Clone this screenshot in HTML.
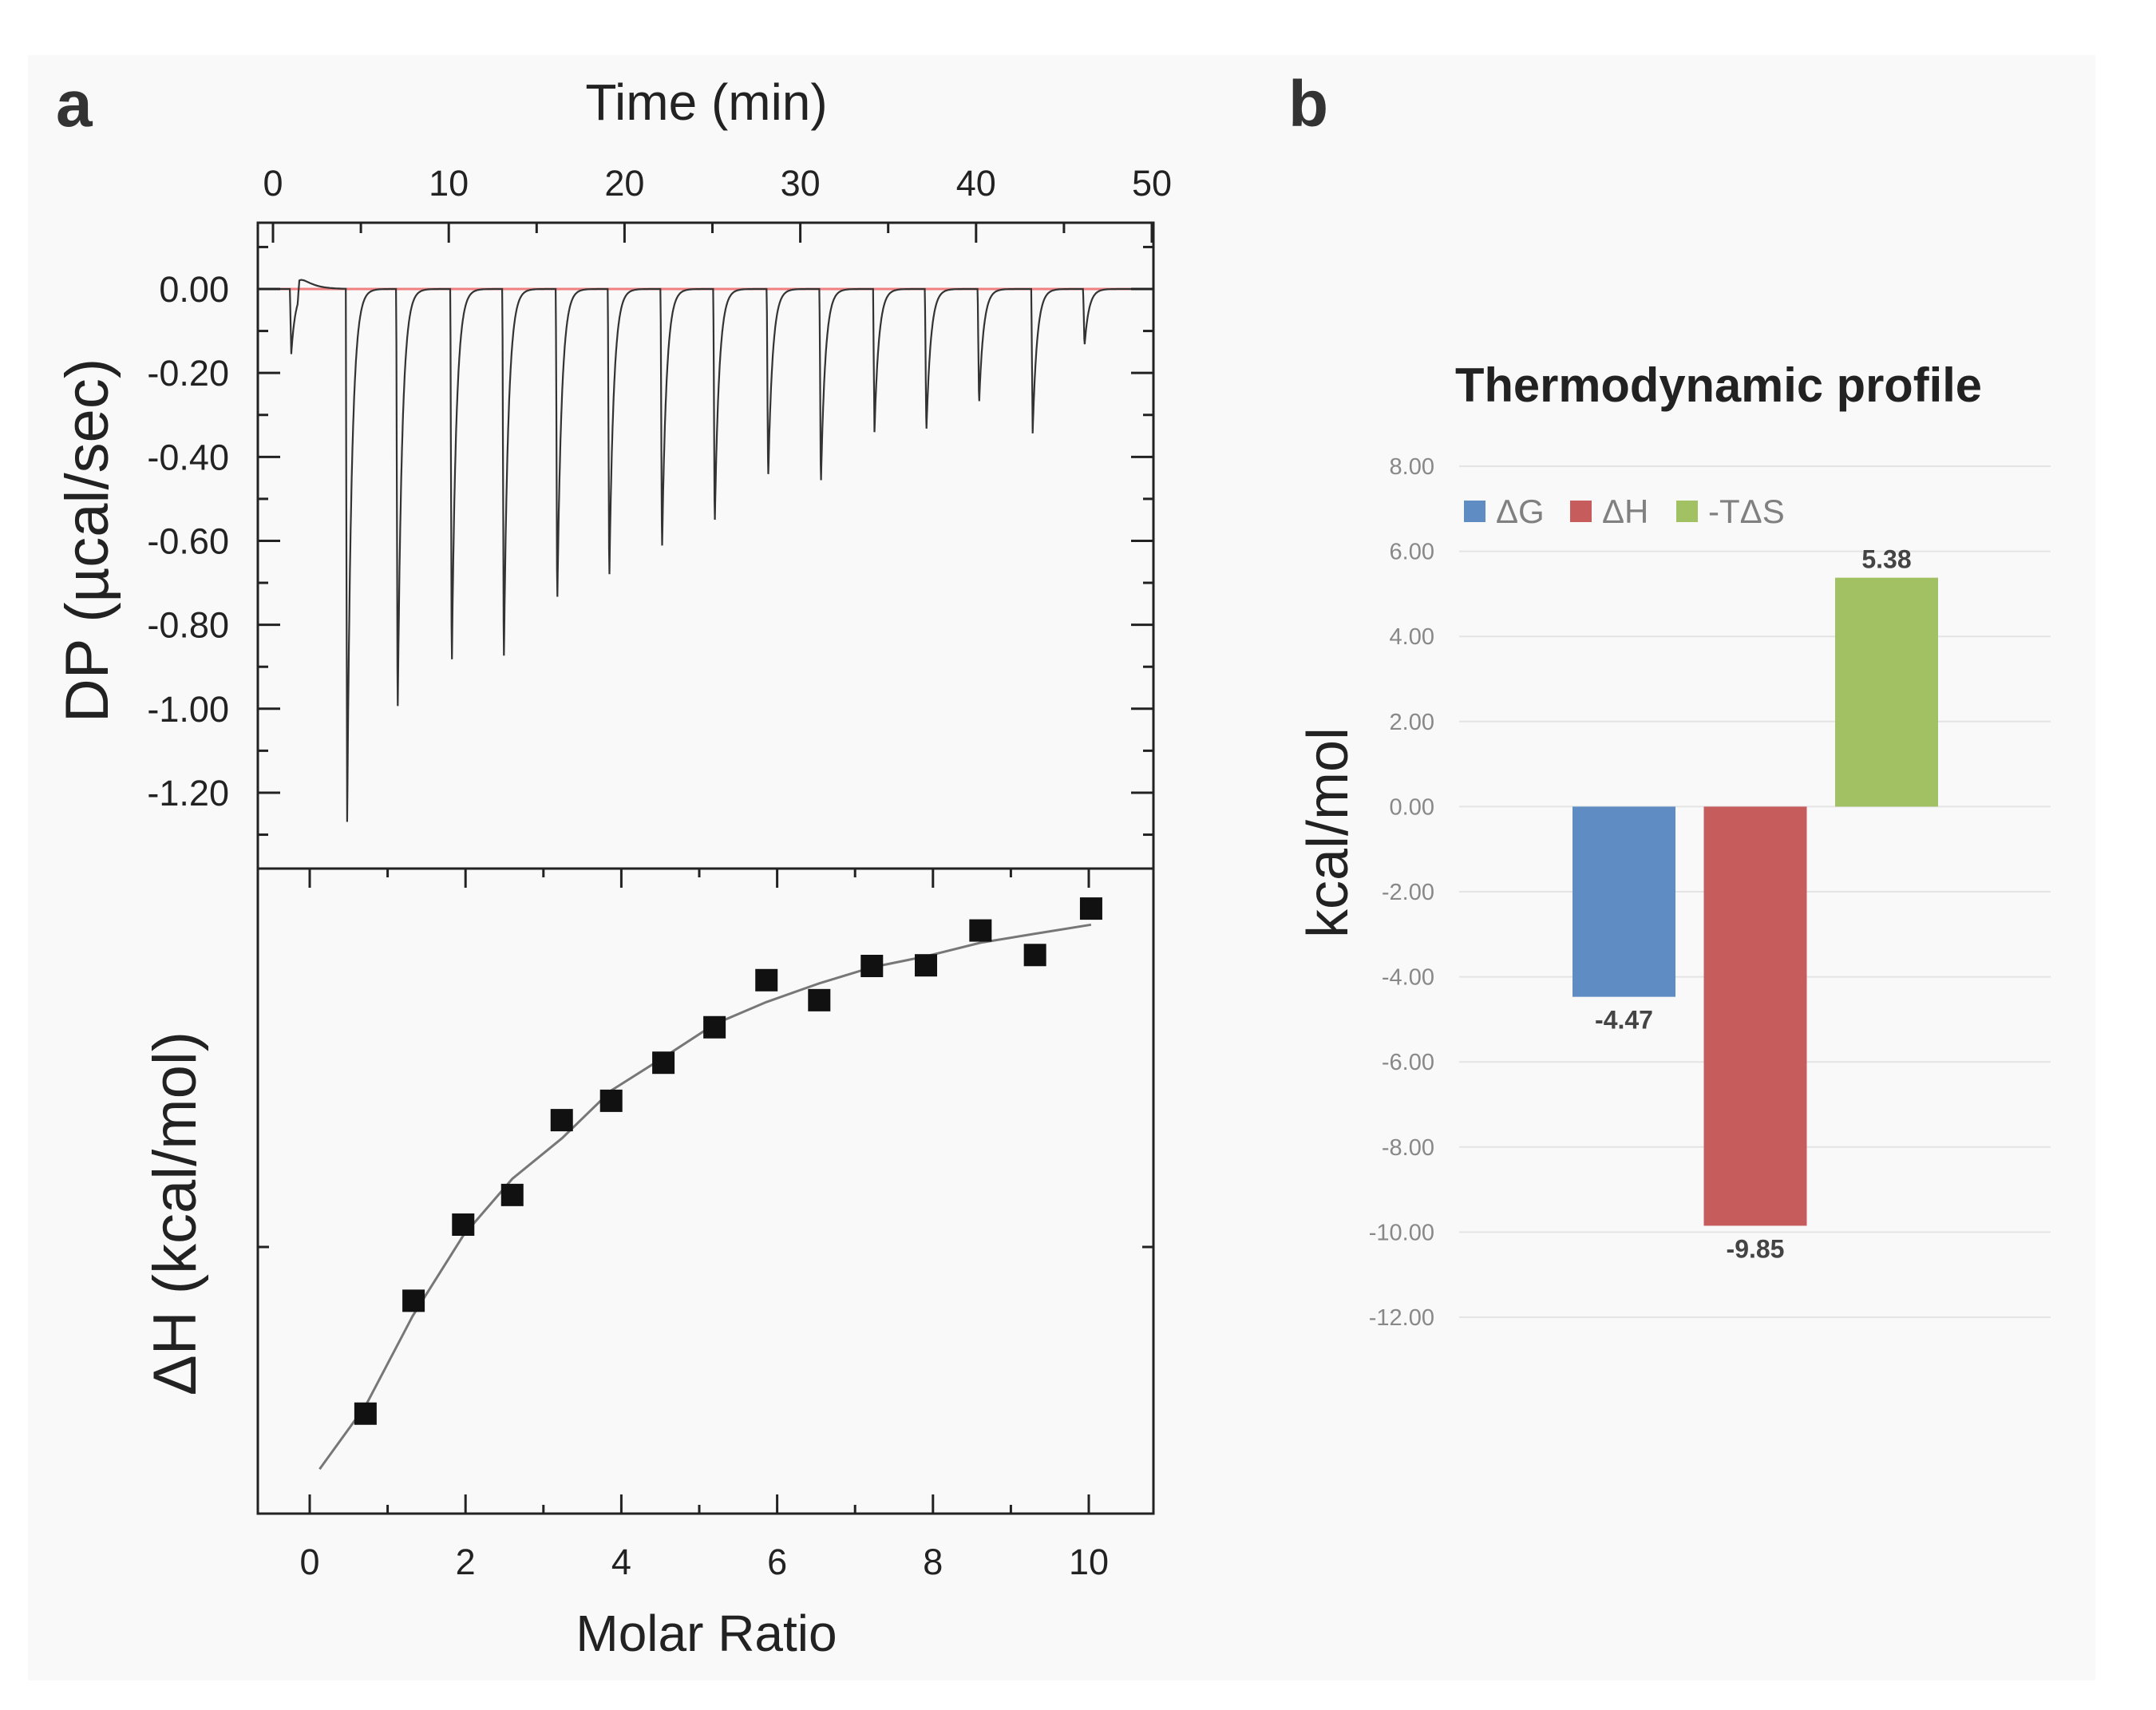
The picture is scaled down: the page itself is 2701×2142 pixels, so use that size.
<!DOCTYPE html>
<html><head><meta charset="utf-8"><style>
html,body{margin:0;padding:0;background:#fff;}
svg{display:block;}
text{font-family:"Liberation Sans",sans-serif;}
</style></head><body>
<svg id="fig" width="2701" height="2142" viewBox="0 0 2701 2142" xmlns="http://www.w3.org/2000/svg">
<rect x="35" y="69" width="2590" height="2036" fill="#f9f9f9"/>
<text x="70" y="158" font-size="82" font-weight="bold" fill="#333">a</text>
<text x="1614" y="158" font-size="82" font-weight="bold" fill="#333">b</text>
<g id="pa"></g>
<g id="pb"></g>
</svg>
<script>
// ---- ITC raw data (top) ----
const peakTimes=[1.04,4.22,7.09,10.17,13.13,16.17,19.13,22.13,25.13,28.17,31.17,34.22,37.17,40.17,43.22,46.17];
const peakDepths=[-0.155,-1.27,-1.034,-0.918,-0.909,-0.763,-0.707,-0.636,-0.572,-0.459,-0.474,-0.341,-0.346,-0.278,-0.344,-0.137];
const bumpTime=1.5, bumpHeight=0.045;
const timeTicks=[0,10,20,30,40,50];
const dpTicks=[0,-0.2,-0.4,-0.6,-0.8,-1.0,-1.2];
// ---- integrated heats (bottom) ----
const ratioPts=[0.716,1.333,1.97,2.60,3.235,3.87,4.54,5.196,5.863,6.54,7.216,7.91,8.61,9.31,10.03];
const heatPts=[15.5,33.0,44.8,49.4,61.0,64.0,69.9,75.4,82.7,79.6,84.9,85.0,90.4,86.6,93.8];
const fitX=[0.127,0.72,1.32,1.97,2.6,3.24,3.87,4.54,5.2,5.86,6.54,7.22,7.91,8.61,9.31,10.03];
const fitY=[6.9,16.8,30.6,43.1,51.9,58.2,65.6,70.7,75.9,79.3,82.2,84.7,86.4,88.5,89.9,91.3];
const ratioTicks=[0,2,4,6,8,10];
// ---- thermodynamic profile ----
const categories=["ΔG","ΔH","-TΔS"];
const energies=[-4.47,-9.85,5.38];
const energyLabels=["-4.47","-9.85","5.38"];
const energyTicks=[8,6,4,2,0,-2,-4,-6,-8,-10,-12];

const NS="http://www.w3.org/2000/svg";
function mk(parent,tag,attrs,txt){const e=document.createElementNS(NS,tag);for(const k in attrs)e.setAttribute(k,attrs[k]);if(txt!==undefined)e.textContent=txt;parent.appendChild(e);return e;}

// ===== Panel a =====
const pa=document.getElementById('pa');
const L=323,R=1445,T=279,D=1088,B=1896;
const xt=t=>342+t*22.02;
const ydp=v=>362-v*525.8;
const xr=r=>388+r*97.6;
const yh=v=>B-(v/100)*(B-D);

timeTicks.forEach(t=>{const e=mk(pa,'text',{x:xt(t),y:245,'font-size':45,'text-anchor':'middle',fill:'#222'},String(t));
});
let e=mk(pa,'text',{x:885,y:150,'font-size':64,'text-anchor':'middle',fill:'#222'},'Time (min)');


let pts=[];
for(let t=0;t<=50.001;t+=0.02){
  let v=0;
  peakTimes.forEach((p,i)=>{const d=t-p;const w=0.08;
    if(d>-w&&d<=0)v+=peakDepths[i]*(1+d/w);
    else if(d>0)v+=peakDepths[i]*Math.exp(-d/0.25);});
  const db=t-bumpTime; if(db>-0.1&&db<=0)v+=bumpHeight*(1+db/0.1); else if(db>0)v+=bumpHeight*Math.exp(-db/0.6);
  pts.push(xt(t).toFixed(1)+','+ydp(v).toFixed(1));
}
e=mk(pa,'line',{x1:xt(0),x2:xt(50),y1:ydp(0),y2:ydp(0),stroke:'#f08080','stroke-width':3});

e=mk(pa,'polyline',{points:pts.join(' '),fill:'none',stroke:'#333','stroke-width':2.2});


e=mk(pa,'rect',{x:L,y:T,width:R-L,height:B-T,fill:'none',stroke:'#222','stroke-width':3});

e=mk(pa,'line',{x1:L,x2:R,y1:D,y2:D,stroke:'#222','stroke-width':3});


for(let t=0;t<=50;t+=5){const len=t%10===0?25:13;
  mk(pa,'line',{x1:xt(t),x2:xt(t),y1:T,y2:T+len,stroke:'#222','stroke-width':3});}
for(let k=1;k>=-13;k--){const v=k/10;const len=(k%2===0)?28:13;const y=ydp(v);
  if(y<=T+2||y>=D-2)continue;
  mk(pa,'line',{x1:L,x2:L+len,y1:y,y2:y,stroke:'#222','stroke-width':3});
  mk(pa,'line',{x1:R,x2:R-len,y1:y,y2:y,stroke:'#222','stroke-width':3});}
dpTicks.forEach(v=>{const e=mk(pa,'text',{x:287,y:ydp(v)+16,'font-size':45,'text-anchor':'end',fill:'#222'},v.toFixed(2));
});
e=mk(pa,'text',{x:0,y:0,'font-size':76,'text-anchor':'middle',fill:'#222',transform:'translate(135,677) rotate(-90)'},'DP (µcal/sec)');


for(let r=0;r<=10;r++){const len=r%2===0?24:11;
  mk(pa,'line',{x1:xr(r),x2:xr(r),y1:D,y2:D+len,stroke:'#222','stroke-width':3});
  mk(pa,'line',{x1:xr(r),x2:xr(r),y1:B,y2:B-len,stroke:'#222','stroke-width':3});}
mk(pa,'line',{x1:L,x2:L+14,y1:1562,y2:1562,stroke:'#222','stroke-width':3});
mk(pa,'line',{x1:R,x2:R-14,y1:1562,y2:1562,stroke:'#222','stroke-width':3});
ratioTicks.forEach(r=>{const e=mk(pa,'text',{x:xr(r),y:1972,'font-size':45,'text-anchor':'middle',fill:'#222'},String(r));
});
e=mk(pa,'text',{x:885,y:2068,'font-size':64,'text-anchor':'middle',fill:'#222'},'Molar Ratio');

e=mk(pa,'text',{x:0,y:0,'font-size':76,'text-anchor':'middle',fill:'#222',transform:'translate(245,1520) rotate(-90)'},'ΔH (kcal/mol)');


e=mk(pa,'polyline',{points:fitX.map((x,i)=>xr(x).toFixed(1)+','+yh(fitY[i]).toFixed(1)).join(' '),fill:'none',stroke:'#777','stroke-width':3});

ratioPts.forEach((x,i)=>{const e=mk(pa,'rect',{x:xr(x)-14,y:yh(heatPts[i])-14,width:28,height:28,fill:'#111'});
});

// ===== Panel b =====
const pb=document.getElementById('pb');
const ye=v=>1010.4-v*53.3;
const colors=['#5f8dc3','#c65c5c','#a2c163'];
e=mk(pb,'text',{x:2153,y:503,'font-size':60,'font-weight':'bold','text-anchor':'middle',fill:'#222',textLength:660,lengthAdjust:'spacingAndGlyphs'},'Thermodynamic profile');

energyTicks.forEach(v=>{const g=mk(pb,'line',{x1:1828,x2:2569,y1:ye(v),y2:ye(v),stroke:'#e4e4e4','stroke-width':2});

const t=mk(pb,'text',{x:1797,y:ye(v)+10,'font-size':29,'text-anchor':'end',fill:'#888'},v.toFixed(2));
});
e=mk(pb,'text',{x:0,y:0,'font-size':72,'text-anchor':'middle',fill:'#222',transform:'translate(1688,1043) rotate(-90)'},'kcal/mol');

const legX=[1834,1967,2100];
categories.forEach((c,i)=>{
  const s=mk(pb,'rect',{x:legX[i],y:627,width:27,height:27,fill:colors[i]});
  
  const t=mk(pb,'text',{x:legX[i]+40,y:655,'font-size':42,fill:'#808080'},c);
  
  const cx=2034.5+i*164.5, v=energies[i];
  const b=mk(pb,'rect',{x:cx-64.5,y:Math.min(ye(v),ye(0)),width:129,height:Math.abs(ye(v)-ye(0)),fill:colors[i]});
  
  const ly=v<0?ye(v)+40:ye(v)-12;
  const l=mk(pb,'text',{x:cx,y:ly,'font-size':32,'font-weight':'bold','text-anchor':'middle',fill:'#444'},energyLabels[i]);
  
});
</script>
</body></html>
